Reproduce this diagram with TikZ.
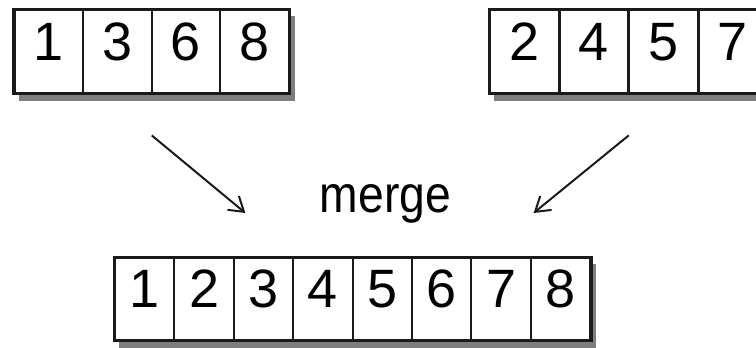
\documentclass[tikz,border=0pt]{standalone}
\usepackage{fontspec}
\setmainfont{Liberation Sans}
\usetikzlibrary{arrows.meta, positioning, fit, backgrounds}
\definecolor{mrgInk}{HTML}{1A1A1A}
\definecolor{mrgShade}{HTML}{7E7E7E}

\begin{document}
\begin{tikzpicture}[
  x=1pt, y=1pt,
  >={Straight Barb[length=14pt, width=18pt]},
  cell/.style={draw=mrgInk, line width=2pt, fill=white, inner sep=0pt,
               minimum height=83pt, text height=38pt, text depth=20pt,
               font=\fontsize{54}{62}\selectfont},
  topcell/.style={cell, minimum width=68.5pt},
  botcell/.style={cell, minimum width=59.4pt, minimum height=82pt},
  frame/.style={draw=mrgInk, line width=2.8pt, inner sep=0pt},
  shade/.style={fill=mrgShade, draw=none, inner sep=0pt,
                xshift=5pt, yshift=-7pt},
  flow/.style={->, draw=mrgInk, line width=2pt},
]
\clip (0,0) rectangle (756,348);

% ======================= two sorted runs =================================
\foreach \v [count=\i] in {1,3,6,8} {
  \node[topcell] (a\i) at ({49+68.5*(\i-1)},296.5) {\v};
}
\foreach \v [count=\i] in {2,4,5,7} {
  \node[topcell] (b\i) at ({524.5+69.5*(\i-1)},296.5) {\v};
}
\node[frame, fit=(a1)(a4)] (left) {};
\node[frame, fit=(b1)(b4)] (right) {};

% ======================= merge ===========================================
\node[font=\fontsize{52}{60}\selectfont, anchor=base] (merge) at (385.5,135)
  {\scalebox{0.89}[1]{merge}};
\draw[flow] ([yshift=-40pt]left.south) -- ([xshift=-71pt]merge.base west);
\draw[flow] ([yshift=-40pt]right.south) -- ([xshift=79pt]merge.base east);

% ======================= merged run ======================================
\foreach \v in {1,...,8} {
  \node[botcell] (m\v) at ({144.7+59.4*(\v-1)},49) {\v};
}
\node[frame, fit=(m1)(m8)] (out) {};

\begin{scope}[on background layer]
  \fill[white] (0,0) rectangle (756,348);
  \node[shade, fit=(a1)(a4)] {};
  \node[shade, fit=(b1)(b4)] {};
  \node[shade, fit=(m1)(m8)] {};
\end{scope}
\end{tikzpicture}
\end{document}
